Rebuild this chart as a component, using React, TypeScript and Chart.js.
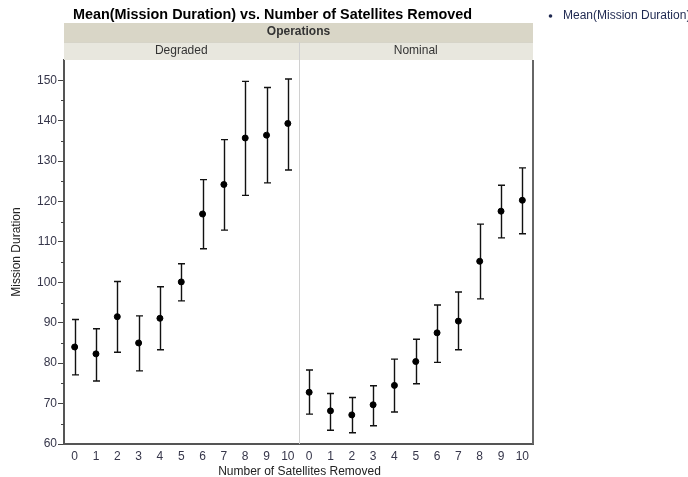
import React, { useEffect, useRef } from "react";
import { Chart, registerables } from "chart.js";

Chart.register(...registerables);

const categories = [0, 1, 2, 3, 4, 5, 6, 7, 8, 9, 10];
const panels = ["Degraded", "Nominal"];
const yTicks = [60, 70, 80, 90, 100, 110, 120, 130, 140, 150];

const degradedMean = [84.0, 82.3, 91.5, 85.0, 91.1, 100.1, 116.9, 124.2, 135.7, 136.4, 139.3];
const degradedLower = [77.1, 75.6, 82.7, 78.1, 83.3, 95.4, 108.3, 112.9, 121.5, 124.6, 127.8];
const degradedUpper = [90.8, 88.5, 100.2, 91.7, 98.9, 104.6, 125.4, 135.3, 149.7, 148.2, 150.3];

const nominalMean = [72.8, 68.2, 67.2, 69.7, 74.5, 80.4, 87.5, 90.4, 105.2, 117.6, 120.3];
const nominalLower = [67.4, 63.4, 62.8, 64.5, 67.9, 74.9, 80.2, 83.3, 95.9, 111.0, 112.0];
const nominalUpper = [78.3, 72.5, 71.5, 74.4, 81.0, 85.9, 94.4, 97.6, 114.4, 124.0, 128.3];

const FONT = "'Liberation Sans', Arial, sans-serif";
const PANEL_SPAN = categories.length; // 11 units per panel
const LABEL_COLOR = "#36364a";

export default function App() {
  const ref = useRef<HTMLCanvasElement | null>(null);

  useEffect(() => {
    const canvas = ref.current;
    if (!canvas) return;

    const points: { x: number; y: number; lo: number; hi: number }[] = [];
    categories.forEach((c, i) =>
      points.push({ x: c, y: degradedMean[i], lo: degradedLower[i], hi: degradedUpper[i] })
    );
    categories.forEach((c, i) =>
      points.push({ x: c + PANEL_SPAN, y: nominalMean[i], lo: nominalLower[i], hi: nominalUpper[i] })
    );

    const decor = {
      id: "decor",
      beforeDatasetsDraw(chart: any) {
        const { ctx, chartArea: a, scales } = chart;
        const xs = scales.x;
        const ys = scales.y;
        ctx.save();
        // header bands
        const splitX = Math.round(xs.getPixelForValue(PANEL_SPAN - 0.5)) + 0.5;
        ctx.fillStyle = "#d9d6c7";
        ctx.fillRect(a.left, 23, a.right - a.left, 19);
        ctx.fillStyle = "#e8e7de";
        ctx.fillRect(a.left, 42, a.right - a.left, 18);
        ctx.fillStyle = "#d6d4c8";
        ctx.fillRect(a.left, 42, a.right - a.left, 1);
        // divider
        ctx.strokeStyle = "#d0d0d0";
        ctx.lineWidth = 1;
        ctx.beginPath();
        ctx.moveTo(splitX, 42);
        ctx.lineTo(splitX, a.bottom);
        ctx.stroke();
        // header text
        ctx.fillStyle = "#333";
        ctx.textAlign = "center";
        ctx.textBaseline = "middle";
        ctx.font = `bold 12px ${FONT}`;
        ctx.fillText("Operations", (a.left + a.right) / 2, 32);
        ctx.font = `12px ${FONT}`;
        panels.forEach((p, k) => {
          const cx = xs.getPixelForValue(k * PANEL_SPAN + (categories.length - 1) / 2);
          ctx.fillText(p, cx, 51);
        });
        // title
        ctx.fillStyle = "#000";
        ctx.textAlign = "left";
        ctx.font = `bold 14.4px ${FONT}`;
        ctx.fillText("Mean(Mission Duration) vs. Number of Satellites Removed", 73, 15);
        // legend
        ctx.font = `12px ${FONT}`;
        ctx.fillStyle = "#1e2850";
        ctx.beginPath();
        ctx.arc(550.5, 16, 1.8, 0, Math.PI * 2);
        ctx.fill();
        ctx.fillText("Mean(Mission Duration)", 563, 16);
        // axis titles
        ctx.fillStyle = "#222";
        ctx.textAlign = "center";
        ctx.fillText("Number of Satellites Removed", 299.5, 472);
        ctx.save();
        ctx.translate(17, (a.top + a.bottom) / 2);
        ctx.rotate(-Math.PI / 2);
        ctx.fillText("Mission Duration", 0, 0);
        ctx.restore();
        // minor y ticks
        ctx.strokeStyle = "#444";
        ctx.lineWidth = 1;
        for (let v = 65; v < 155; v += 10) {
          const y = Math.round(ys.getPixelForValue(v)) + 0.5;
          ctx.beginPath();
          ctx.moveTo(a.left - 3, y);
          ctx.lineTo(a.left, y);
          ctx.stroke();
        }
        // right frame
        ctx.strokeStyle = "#666";
        ctx.lineWidth = 2;
        ctx.beginPath();
        ctx.moveTo(a.right, 60);
        ctx.lineTo(a.right, a.bottom);
        ctx.stroke();
        // error bars
        ctx.strokeStyle = "#111";
        ctx.lineWidth = 1.4;
        points.forEach((p) => {
          const x = Math.round(xs.getPixelForValue(p.x)) + 0.5;
          const y1 = ys.getPixelForValue(p.lo);
          const y2 = ys.getPixelForValue(p.hi);
          ctx.beginPath();
          ctx.moveTo(x, y1);
          ctx.lineTo(x, y2);
          ctx.moveTo(x - 3.5, y1);
          ctx.lineTo(x + 3.5, y1);
          ctx.moveTo(x - 3.5, y2);
          ctx.lineTo(x + 3.5, y2);
          ctx.stroke();
        });
        ctx.restore();
      },
    };

    const chart = new Chart(canvas, {
      type: "scatter",
      data: {
        datasets: [
          {
            label: "Mean(Mission Duration)",
            data: points.map((p) => ({ x: p.x, y: p.y })),
            backgroundColor: "#000",
            borderColor: "#000",
            pointRadius: 3,
            pointHoverRadius: 3,
          },
        ],
      },
      options: {
        responsive: false,
        animation: false,
        events: [],
        layout: { padding: { left: 0, right: 155, top: 60, bottom: 0 } },
        plugins: {
          legend: { display: false },
          title: { display: false },
          tooltip: { enabled: false },
        },
        scales: {
          x: {
            type: "linear",
            min: -0.5,
            max: PANEL_SPAN * 2 - 0.5,
            afterBuildTicks: (s: any) => {
              const t: any[] = [];
              for (let k = 0; k < 2; k++)
                categories.forEach((c) => t.push({ value: c + k * PANEL_SPAN }));
              s.ticks = t;
            },
            afterFit: (s: any) => {
              s.height = 33;
            },
            ticks: {
              autoSkip: false,
              maxRotation: 0,
              padding: 5,
              color: LABEL_COLOR,
              font: { family: FONT, size: 12 },
              callback: (v: any) => String(categories[Math.round(Number(v)) % PANEL_SPAN]),
            },
            grid: { display: false, drawTicks: false },
            border: { display: true, color: "#555", width: 2 },
          },
          y: {
            min: 60,
            max: 155,
            afterBuildTicks: (s: any) => {
              s.ticks = yTicks.map((v) => ({ value: v }));
            },
            afterFit: (s: any) => {
              s.width = 64;
            },
            ticks: {
              padding: 1,
              color: LABEL_COLOR,
              font: { family: FONT, size: 12 },
            },
            grid: {
              display: true,
              drawOnChartArea: false,
              drawTicks: true,
              tickLength: 6,
              tickColor: "#444",
            },
            border: { display: true, color: "#555", width: 2 },
          },
        },
      },
      plugins: [decor],
    });

    return () => chart.destroy();
  }, []);

  return (
    <div style={{ position: "fixed", left: 0, top: 0, width: 688, height: 477, background: "#fff" }}>
      <canvas ref={ref} width={688} height={477} style={{ display: "block", width: 688, height: 477 }} />
    </div>
  );
}
